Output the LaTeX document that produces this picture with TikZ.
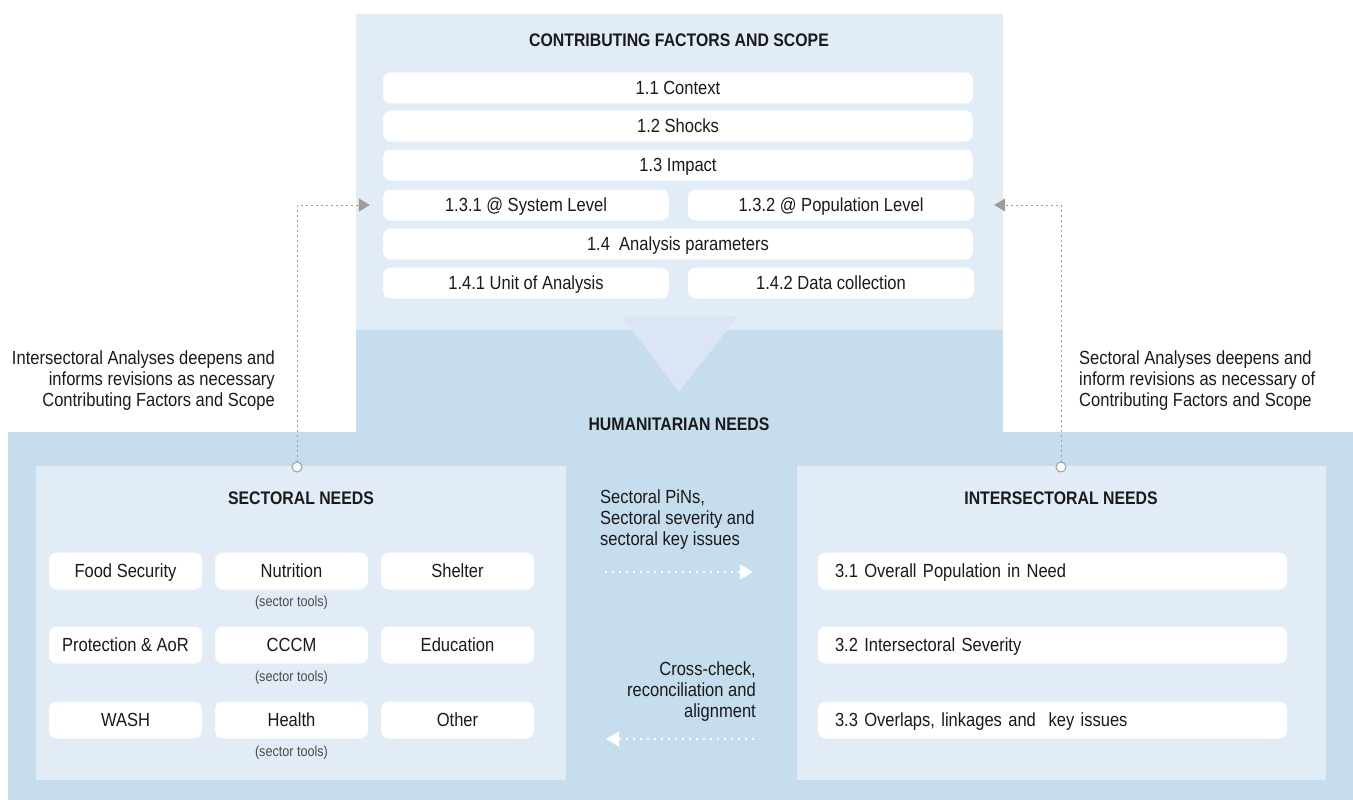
\documentclass[tikz,border=0pt]{standalone}
\usepackage{fontspec}
\setmainfont{Liberation Sans}[FakeStretch=0.87]
\usetikzlibrary{arrows.meta}

\definecolor{paleblue}{HTML}{E1ECF6}
\definecolor{midblue}{HTML}{C5DDED}
\definecolor{triblue}{HTML}{DBE5F4}
\definecolor{linegray}{HTML}{9C9C9C}
\definecolor{textdark}{HTML}{1A1A1A}
\definecolor{toolgray}{HTML}{4A4A4A}

\tikzset{
  basefont/.style={font=\fontsize{19}{21}\selectfont,text=textdark},
  head/.style={basefont,font=\fontsize{18.2}{21}\selectfont\bfseries},
  itembox/.style={basefont,fill=white,rounded corners=8pt,inner sep=0pt,
    text height=13.6pt,text depth=0pt},
  wide/.style={itembox,minimum width=590pt,minimum height=31pt},
  half/.style={itembox,minimum width=286pt,minimum height=31pt},
  sectorbox/.style={itembox,minimum width=153pt,minimum height=37pt},
  crossbox/.style={itembox,text width=435pt,inner xsep=17pt,minimum height=37pt,align=left},
  tools/.style={font=\fontsize{14.5}{16}\selectfont,text=toolgray},
  note/.style={basefont,inner sep=0pt},
  port/.style={circle,draw=linegray,fill=white,line width=1pt,minimum size=10pt,inner sep=0pt},
  link/.style={draw=linegray,line width=1pt,dash pattern=on 2pt off 3pt,
    -{Triangle[width=13pt,length=11pt,fill=linegray]}},
  flow/.style={draw=white,line width=2pt,dash pattern=on 2pt off 5pt,
    -{Triangle[width=15pt,length=13pt,fill=white]}}
}

\begin{document}
\begin{tikzpicture}[x=1pt,y=-1pt]
\useasboundingbox (0,0) rectangle (1353,800);

% panels
\fill[midblue] (356,300) rectangle (1003,432);
\fill[midblue] (8,432) rectangle (1353,800);
\fill[paleblue] (356,14) rectangle (1003,330);
\fill[triblue] (621,316) -- (738,316) -- (679,392) -- cycle;
\fill[paleblue] (36,466) rectangle (566,780);
\fill[paleblue] (797,466) rectangle (1326,780);

% contributing factors
\node[head] (cfs) at (679,40) {CONTRIBUTING FACTORS AND SCOPE};
\node[wide] (ctx) at (678,88) {1.1 Context};
\node[wide] (shk) at (678,126) {1.2 Shocks};
\node[wide] (imp) at (678,165) {1.3 Impact};
\node[half] (sys) at (526,205) {1.3.1 @ System Level};
\node[half] (pop) at (831,205) {1.3.2 @ Population Level};
\node[wide] (par) at (678,244) {1.4\ \ Analysis parameters};
\node[half] (uoa) at (526,283) {1.4.1 Unit of Analysis};
\node[half] (dat) at (831,283) {1.4.2 Data collection};

% humanitarian needs
\node[head] (hn) at (679,424) {HUMANITARIAN NEEDS};
\node[head] (sn) at (301,498) {SECTORAL NEEDS};
\node[head] (isn) at (1061,498) {INTERSECTORAL NEEDS};

\node[sectorbox] (food) at (125.5,571) {Food Security};
\node[sectorbox] (nut) at (291.5,571) {Nutrition};
\node[sectorbox] (shel) at (457.5,571) {Shelter};
\node[sectorbox] (prot) at (125.5,645) {Protection \& AoR};
\node[sectorbox] (cccm) at (291.5,645) {CCCM};
\node[sectorbox] (edu) at (457.5,645) {Education};
\node[sectorbox] (wash) at (125.5,720) {WASH};
\node[sectorbox] (hlth) at (291.5,720) {Health};
\node[sectorbox] (oth) at (457.5,720) {Other};
\node[tools] (nutTools) at (291.5,603) {(sector tools)};
\node[tools] (cccmTools) at (291.5,678) {(sector tools)};
\node[tools] (hlthTools) at (291.5,753) {(sector tools)};

\node[crossbox] (pin) at (1052.5,571) {3.1 Overall Population in Need};
\node[crossbox] (sev) at (1052.5,645) {3.2 Intersectoral Severity};
\node[crossbox] (ovl) at (1052.5,720) {3.3 Overlaps, linkages and\ \ key issues};

% side notes
\node[note,anchor=east,align=right] (leftNote) at (275,381)
  {Intersectoral Analyses deepens and\\informs revisions as necessary\\Contributing Factors and Scope};
\node[note,anchor=west,align=left] (rightNote) at (1079,381)
  {Sectoral Analyses deepens and\\inform revisions as necessary of\\Contributing Factors and Scope};
\node[note,anchor=west,align=left] (pinNote) at (600,520)
  {Sectoral PiNs,\\Sectoral severity and\\sectoral key issues};
\node[note,anchor=east,align=right] (checkNote) at (756,692)
  {Cross-check,\\reconciliation and\\alignment};

% feedback links
\node[port] (lport) at (297,467) {};
\node[port] (rport) at (1061,467) {};
\draw[link,shorten >=13pt] (lport.north) |- (sys.west);
\draw[link,shorten >=20pt] (rport.north) |- (pop.east);

% flows between needs
\coordinate (pinFrom) at (605,572);
\coordinate (pinTo) at (753,572);
\coordinate (checkFrom) at (754,739);
\coordinate (checkTo) at (606,739);
\draw[flow] (pinFrom) -- (pinTo);
\draw[flow] (checkFrom) -- (checkTo);
\end{tikzpicture}
\end{document}
